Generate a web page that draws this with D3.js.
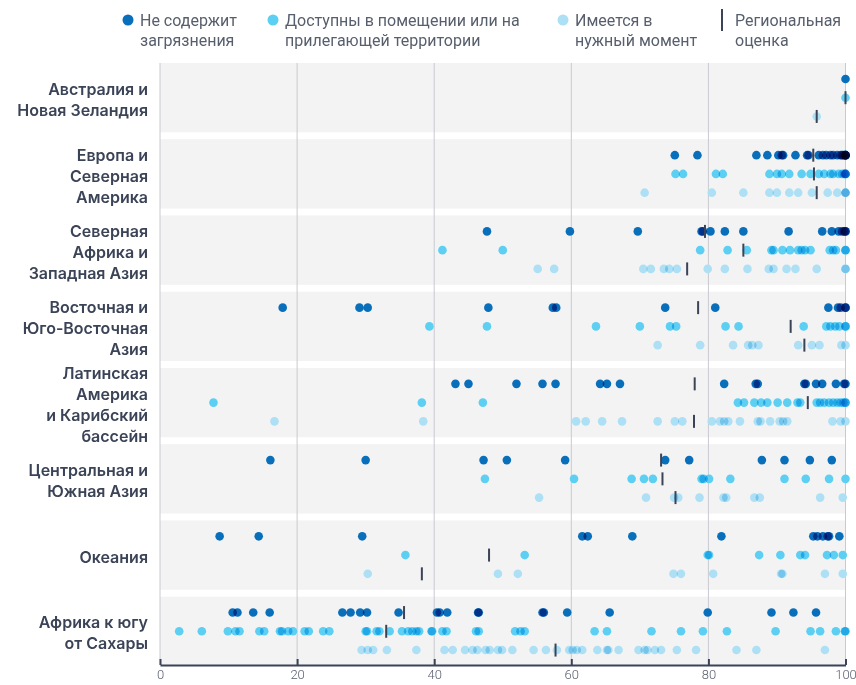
<!DOCTYPE html>
<html>
<head>
<meta charset="utf-8">
<script src="https://cdn.jsdelivr.net/npm/d3@7"></script>
<style>
  body { margin: 0; background: #fff; }
  svg { display: block; }
</style>
</head>
<body>
<svg id="chart" width="856" height="685"></svg>
<script>
// regions, top to bottom
let regions = [
    ["Австралия и", "Новая Зеландия"],
    ["Европа и", "Северная", "Америка"],
    ["Северная", "Африка и", "Западная Азия"],
    ["Восточная и", "Юго-Восточная", "Азия"],
    ["Латинская", "Америка", "и Карибский", "бассейн"],
    ["Центральная и", "Южная Азия"],
    ["Океания"],
    ["Африка к югу", "от Сахары"]
];

// country values, one list per region
let cleanVals = [
    [100],
    [75.1, 78.4, 87.0, 88.6, 90.2, 90.7, 90.9, 92.7, 94.4, 94.6, 96.1, 96.7, 97.2, 97.8, 98.2, 98.8, 99.3, 99.5, 99.7, 100, 100, 100, 100, 100],
    [47.7, 59.8, 69.7, 79.0, 79.2, 80.3, 82.4, 85.1, 91.7, 96.6, 98.0, 99.0, 99.5, 99.8, 100, 100],
    [17.9, 29.1, 30.3, 47.9, 57.3, 57.8, 73.7, 81.0, 97.5, 98.9, 99.3, 100, 100],
    [43.1, 45.0, 52.0, 55.8, 57.7, 64.2, 65.2, 67.1, 82.3, 86.9, 87.2, 94.0, 94.2, 95.7, 96.6, 98.6, 99.8, 100],
    [16.1, 30.0, 47.2, 50.6, 59.1, 73.7, 77.2, 87.8, 91.1, 94.8, 98.0],
    [8.7, 14.4, 29.5, 61.6, 62.4, 68.9, 81.9, 95.3, 95.9, 96.7, 97.4, 97.6, 99.1],
    [10.6, 11.3, 13.6, 16.0, 26.6, 27.8, 29.2, 30.2, 34.8, 40.4, 40.8, 41.9, 46.4, 46.5, 55.8, 56.0, 59.4, 65.6, 79.9, 89.2, 92.4, 95.7]
];
let accessVals = [
    [100],
    [75.2, 76.3, 81.1, 82.1, 88.9, 90.0, 90.7, 91.8, 93.6, 94.9, 96.1, 96.9, 97.8, 98.2, 99.0, 99.5, 99.8, 100, 100, 100, 100],
    [41.2, 50.0, 78.8, 82.8, 85.6, 89.2, 89.5, 90.8, 91.9, 93.1, 93.6, 94.1, 94.9, 97.7, 98.2, 98.6, 100, 100],
    [39.3, 47.7, 63.6, 70.0, 74.4, 75.3, 82.5, 84.4, 93.9, 97.2, 97.8, 98.5, 99.1, 100, 100],
    [7.8, 38.2, 47.1, 84.3, 85.2, 86.7, 87.7, 88.6, 90.1, 91.5, 93.0, 93.4, 95.8, 96.3, 96.9, 97.6, 98.2, 98.8, 99.3, 99.7, 100, 100],
    [47.4, 60.4, 68.8, 70.6, 71.9, 79.0, 79.3, 80.1, 83.2, 91.1, 94.2, 97.6, 100],
    [35.8, 53.2, 79.9, 80.1, 87.4, 90.5, 93.4, 94.1, 97.3, 98.3, 99.6],
    [2.8, 6.1, 9.9, 11.0, 11.6, 14.5, 15.2, 17.5, 17.8, 18.7, 19.4, 21.1, 21.7, 23.8, 24.7, 30.0, 30.2, 31.6, 32.0, 33.5, 35.3, 36.2, 36.8, 37.4, 37.8, 39.6, 39.7, 41.2, 41.8, 46.1, 46.5, 51.8, 52.6, 53.2, 63.4, 65.2, 71.7, 76.0, 79.2, 82.7, 89.8, 94.9, 96.3, 98.6, 99.9, 100]
];
let availVals = [
    [95.8],
    [70.7, 80.5, 85.1, 88.9, 90.0, 91.8, 93.1, 95.1, 97.4, 98.8, 100, 100, 100],
    [55.1, 57.5, 70.5, 71.6, 73.5, 74.3, 75.4, 79.9, 82.4, 85.7, 88.8, 89.5, 91.4, 92.7, 95.8, 100, 100],
    [72.6, 78.8, 83.6, 85.8, 86.4, 87.3, 93.1, 95.1, 96.2, 99.4, 100],
    [16.7, 38.4, 60.7, 62.1, 64.5, 67.4, 72.6, 75.1, 76.2, 80.5, 81.7, 82.3, 82.9, 84.6, 87.2, 87.6, 89.0, 90.4, 90.9, 91.5, 98.1, 99.3, 100],
    [55.3, 70.9, 75.0, 75.6, 78.7, 82.2, 82.6, 86.7, 87.5, 96.3, 99.6],
    [30.3, 49.3, 52.2, 74.9, 76.0, 80.7, 90.6, 90.8, 97.0, 99.6],
    [29.4, 30.3, 31.1, 33.1, 37.4, 41.5, 42.7, 44.5, 45.6, 46.3, 47.5, 48.1, 49.3, 49.9, 51.4, 54.5, 56.3, 57.9, 59.7, 60.2, 60.8, 61.6, 63.8, 65.2, 65.4, 66.9, 69.8, 70.7, 71.1, 72.2, 73.1, 75.4, 78.2, 84.1, 87.0, 97.0]
];

// regional estimates: [clean, access, avail]
let estimates = [
    [null, 100, 95.8],
    [95.3, 95.4, 95.8],
    [79.5, 85.1, 76.9],
    [78.5, 92.0, 94.0],
    [78.0, 94.5, 77.9],
    [73.1, 73.3, 75.2],
    [null, 48.0, 38.2],
    [35.6, 33.0, 57.7]
];

let seriesKeys = ["clean", "access", "avail"];
let seriesColors = ["#0a6fbb", "#5ccff3", "#ade0f5"];
let legendLabels = [
    ["Не содержит", "загрязнения"],
    ["Доступны в помещении или на", "прилегающей территории"],
    ["Имеется в", "нужный момент"],
    ["Региональная", "оценка"]
];
let xTicks = [0, 20, 40, 60, 80, 100];

let svg = d3.select("#chart");
let plotTop = 63, plotBottom = 665, plotLeft = 160, plotRight = 845.5;

let x = d3.scaleLinear().domain([0, 100]).range([plotLeft, plotRight]);
let y = d3.scaleBand().domain(d3.range(regions.length)).range([plotTop, plotBottom + 1]).paddingInner(0.09);
let sub = d3.scalePoint().domain(seriesKeys).range([0, y.bandwidth()]).padding(0.85);

// bands
svg.append("g").selectAll("rect")
    .data(d3.range(regions.length))
    .enter().append("rect")
    .attr("x", plotLeft)
    .attr("y", d => y(d))
    .attr("width", plotRight - plotLeft)
    .attr("height", y.bandwidth())
    .attr("fill", "#f3f3f3");

// grid
svg.append("g").selectAll("line")
    .data(xTicks)
    .enter().append("line")
    .attr("x1", d => x(d)).attr("x2", d => x(d))
    .attr("y1", plotTop).attr("y2", plotBottom)
    .attr("stroke", "#c9cad1")
    .attr("stroke-width", 1);

// dots
let allSeries = [cleanVals, accessVals, availVals];
let dotsG = svg.append("g").style("isolation", "isolate");
allSeries.forEach(function(vals, s) {
    let pts = [];
    vals.forEach(function(list, r) {
        list.forEach(function(v) { pts.push({r: r, v: v}); });
    });
    dotsG.append("g").selectAll("circle")
        .data(pts)
        .enter().append("circle")
        .attr("cx", d => x(d.v))
        .attr("cy", d => y(d.r) + sub(seriesKeys[s]))
        .attr("r", 4.3)
        .attr("fill", seriesColors[s])
        .style("mix-blend-mode", "multiply");
});

// estimates
let estPts = [];
estimates.forEach(function(row, r) {
    row.forEach(function(v, s) {
        if (v != null) estPts.push({r: r, s: s, v: v});
    });
});
svg.append("g").selectAll("line")
    .data(estPts)
    .enter().append("line")
    .attr("x1", d => x(d.v)).attr("x2", d => x(d.v))
    .attr("y1", d => y(d.r) + sub(seriesKeys[d.s]) - 6.5)
    .attr("y2", d => y(d.r) + sub(seriesKeys[d.s]) + 6.5)
    .attr("stroke", "#3b4357")
    .attr("stroke-width", 2);

// x axis
let axis = svg.append("g")
    .attr("transform", "translate(0," + plotBottom + ")")
    .call(d3.axisBottom(x).tickValues(xTicks).tickSizeInner(-6).tickSizeOuter(0).tickPadding(5));
axis.select(".domain").attr("stroke", "#3b4357").attr("stroke-width", 2);
axis.selectAll(".tick line").attr("stroke", "#3b4357").attr("stroke-width", 2);
axis.selectAll(".tick text")
    .attr("fill", "#5a6070")
    .attr("font-family", "Roboto, sans-serif")
    .attr("font-weight", 300)
    .attr("font-size", "13px");

// region labels
let lineH = 21;
let labelG = svg.append("g")
    .attr("font-family", "Inter, 'Noto Sans', sans-serif")
    .attr("font-weight", 600)
    .attr("font-size", "16px")
    .attr("fill", "#3b4357")
    .attr("text-anchor", "end");
regions.forEach(function(lines, r) {
    let cy = y(r) + y.bandwidth() / 2 + 2;
    let t = labelG.append("text").attr("x", 148);
    lines.forEach(function(line, i) {
        t.append("tspan")
            .attr("x", 148)
            .attr("y", cy + (i - (lines.length - 1) / 2) * lineH)
            .attr("dy", "0.35em")
            .text(line);
    });
});

// legend
let legendX = [128, 273, 563, 722];
let legend = svg.append("g")
    .attr("font-family", "Roboto, sans-serif")
    .attr("font-size", "16px")
    .attr("fill", "#575e6c");
legendLabels.forEach(function(lines, i) {
    if (i < 3) {
        legend.append("circle")
            .attr("cx", legendX[i]).attr("cy", 20).attr("r", 5.5)
            .attr("fill", seriesColors[i]);
    } else {
        legend.append("line")
            .attr("x1", legendX[i]).attr("x2", legendX[i])
            .attr("y1", 9).attr("y2", 31)
            .attr("stroke", "#3b4357").attr("stroke-width", 2);
    }
    let t = legend.append("text");
    lines.forEach(function(line, j) {
        t.append("tspan")
            .attr("x", legendX[i] + (i < 3 ? 12 : 13))
            .attr("y", 20 + j * 20)
            .attr("dy", "0.35em")
            .text(line);
    });
});
</script>
</body>
</html>
